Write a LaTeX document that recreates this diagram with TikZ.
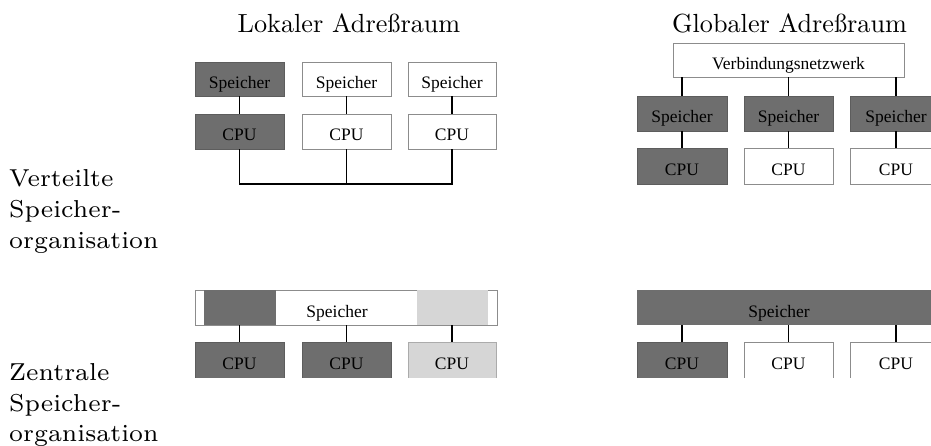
\documentclass[tikz,border=0pt]{standalone}
\usepackage{fontspec}
\newfontfamily\boxfont{Liberation Serif}
\definecolor{memdark}{RGB}{110,110,110}
\definecolor{memlight}{RGB}{214,214,214}
\definecolor{frame}{RGB}{140,140,140}
\tikzset{
  unit/.style={minimum height=35pt, inner sep=0pt, text height=19pt, text depth=0pt,
    font=\boxfont\fontsize{17.5}{20}\selectfont, draw=frame, line width=0.8pt, fill=white},
  shaded/.style={unit, fill=memdark, draw=memdark!85!black},
  caption/.style={unit, draw=none, fill=none},
  wire/.style={line width=1.2pt, black},
  title/.style={inner sep=0pt, anchor=base},
  sidelabel/.style={inner sep=0pt, anchor=base west, align=left}
}
\newcommand{\headline}[1]{\scalebox{2.62}{#1}}
\newcommand{\sideblock}[1]{\scalebox{3.5}{\fontsize{7}{8.77}\selectfont\begin{tabular}[t]{@{}l@{}}#1\end{tabular}}}
\begin{document}
\begin{tikzpicture}[x=1pt,y=-1pt]
\clip (0,0) rectangle (931,446);
\fill[white] (0,0) rectangle (931,446);

% column headings
\node[title] (hl) at (349,32.7) {\headline{Lokaler Adreßraum}};
\node[title] (hg) at (789.5,32.7) {\headline{Globaler Adreßraum}};

% row labels
\node[sidelabel] (rv) at (9,186.7) {\sideblock{Verteilte\\Speicher-\\organisation}};
\node[sidelabel] (rz) at (9,380.5) {\sideblock{Zentrale\\Speicher-\\organisation}};

% distributed memory, local address space
\node[shaded, minimum width=89pt, minimum height=34pt] (sl1) at (239.5,79) {Speicher};
\node[unit,   minimum width=89pt, minimum height=34pt] (sl2) at (346.5,79) {Speicher};
\node[unit,   minimum width=88pt, minimum height=34pt] (sl3) at (452,79)   {Speicher};
\node[shaded, minimum width=89pt] (cl1) at (239.5,131.5) {CPU};
\node[unit,   minimum width=89pt] (cl2) at (346.5,131.5) {CPU};
\node[unit,   minimum width=88pt] (cl3) at (452,131.5)   {CPU};
\foreach \i in {1,2,3} \draw[wire] (sl\i.south) -- (cl\i.north);
\coordinate (bus) at (346,184);
\draw[wire] (cl1.south) |- (bus) -| (cl3.south);
\draw[wire] (cl2.south) -- (cl2.south |- bus);

% distributed memory, global address space
\node[unit, minimum width=231pt, minimum height=34pt] (net) at (788.5,60) {Verbindungsnetzwerk};
\node[shaded, minimum width=90pt] (sr1) at (682,113.5)   {Speicher};
\node[shaded, minimum width=89pt] (sr2) at (788.5,113.5) {Speicher};
\node[shaded, minimum width=92pt] (sr3) at (896,113.5)   {Speicher};
\node[shaded, minimum width=90pt, minimum height=36pt] (cr1) at (682,166)   {CPU};
\node[unit,   minimum width=89pt, minimum height=36pt] (cr2) at (788.5,166) {CPU};
\node[unit,   minimum width=92pt, minimum height=36pt] (cr3) at (896,166)   {CPU};
\foreach \i in {1,2,3} {
  \draw[wire] (net.south -| sr\i.north) -- (sr\i.north);
  \draw[wire] (sr\i.south) -- (cr\i.north);
}

% shared memory, local address space
\node[unit, minimum width=302pt] (ml) at (346,307.5) {};
\fill[memdark]  (204,289.6) rectangle (276,325.4);
\fill[memlight] (417,289.6) rectangle (488,325.4);
\node[caption] (mlt) at (337,307.5) {Speicher};

% shared memory, global address space
\node[shaded, draw=none, minimum width=305pt] (mr) at (789.5,307.5) {};
\node[caption] (mrt) at (779,307.5) {Speicher};

% processors below the shared memories (cut off at the bottom)
\begin{scope}
  \clip (0,0) rectangle (931,377.4);
  \node[shaded, minimum width=89pt, minimum height=36pt] (cb1) at (239.5,360) {CPU};
  \node[shaded, minimum width=89pt, minimum height=36pt] (cb2) at (346.5,360) {CPU};
  \node[unit, fill=memlight, draw=memlight!80!black, minimum width=88pt, minimum height=36pt] (cb3) at (452,360) {CPU};
  \node[shaded, minimum width=90pt, minimum height=36pt] (cg1) at (682,360)   {CPU};
  \node[unit,   minimum width=89pt, minimum height=36pt] (cg2) at (788.5,360) {CPU};
  \node[unit,   minimum width=92pt, minimum height=36pt] (cg3) at (896,360)   {CPU};
\end{scope}
\foreach \i in {1,2,3} {
  \draw[wire] (cb\i.north |- ml.south) -- (cb\i.north);
  \draw[wire] (cg\i.north |- mr.south) -- (cg\i.north);
}
\end{tikzpicture}
\end{document}
